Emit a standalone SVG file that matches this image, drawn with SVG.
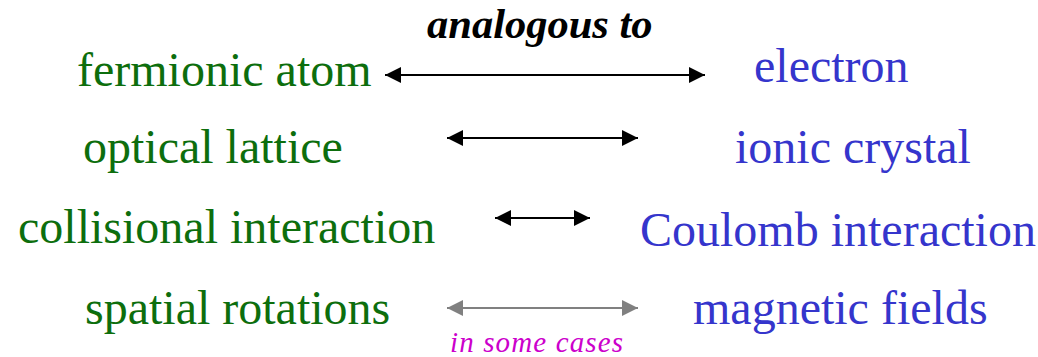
<svg xmlns="http://www.w3.org/2000/svg" width="1038" height="357" viewBox="0 0 1038 357">
<style>
.g{fill:#0d6e0d;font-family:"Liberation Serif","Times New Roman",serif;font-size:48px}
.b{fill:#3535cc;font-family:"Liberation Serif","Times New Roman",serif;font-size:48px}
.arr{stroke:#000;stroke-width:2.2;fill:none}
.gray{stroke:#808080}
</style>
<defs>
<marker id="ah" markerUnits="userSpaceOnUse" markerWidth="16" markerHeight="16" refX="16" refY="8" orient="auto-start-reverse"><path d="M0,0 L16,8 L0,16 Z" fill="#000"/></marker>
<marker id="ahg" markerUnits="userSpaceOnUse" markerWidth="16" markerHeight="16" refX="16" refY="8" orient="auto-start-reverse"><path d="M0,0 L16,8 L0,16 Z" fill="#808080"/></marker>
</defs>
<rect width="1038" height="357" fill="#fff"/>
<text x="427" y="38" font-family="'Liberation Serif','Times New Roman',serif" font-size="42.5" font-weight="bold" font-style="italic" fill="#000">analogous to</text>
<g id="n-fermionic"><text class="g" x="77" y="86">fermionic atom</text></g>
<g id="n-electron"><text class="b" x="754" y="82">electron</text></g>
<g id="n-optical"><text class="g" x="83" y="163">optical lattice</text></g>
<g id="n-ionic"><text class="b" x="735" y="163">ionic crystal</text></g>
<g id="n-collisional"><text class="g" x="18" y="243">collisional interaction</text></g>
<g id="n-coulomb"><text class="b" x="640" y="246">Coulomb interaction</text></g>
<g id="n-spatial"><text class="g" x="85" y="324">spatial rotations</text></g>
<g id="n-magnetic"><text class="b" x="693" y="324">magnetic fields</text></g>
<g id="connectors">
<line class="arr" x1="385" y1="75" x2="705" y2="75" marker-start="url(#ah)" marker-end="url(#ah)"/>
<line class="arr" x1="447" y1="138" x2="638" y2="138" marker-start="url(#ah)" marker-end="url(#ah)"/>
<line class="arr" x1="495" y1="218" x2="590" y2="218" marker-start="url(#ah)" marker-end="url(#ah)"/>
<line class="arr gray" x1="447" y1="308" x2="638" y2="308" marker-start="url(#ahg)" marker-end="url(#ahg)"/>
<text x="450" y="352" font-family="'Liberation Serif','Times New Roman',serif" font-size="29" font-style="italic" fill="#cc00cc" textLength="173" lengthAdjust="spacing">in some cases</text>
</g>
</svg>
